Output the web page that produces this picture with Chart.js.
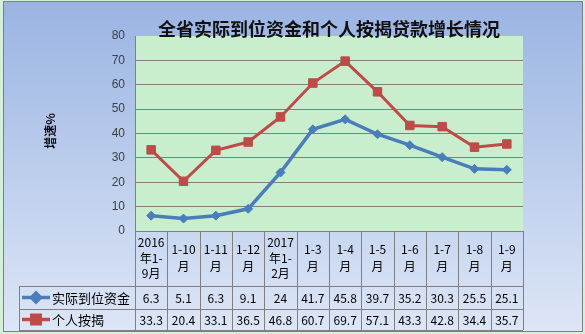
<!DOCTYPE html>
<html>
<head>
<meta charset="utf-8">
<script src="https://cdn.jsdelivr.net/npm/chart.js@4"></script>
<style>
	html, body { margin: 0; padding: 0; background: #d5f0d8; }
	canvas { display: block; }
</style>
</head>
<body>
<canvas id="chart" width="585" height="334"></canvas>
<script>
const Title = "全省实际到位资金和个人按揭贷款增长情况";
const AxisTitle = "增速%";
const Categories = [
	["2016", "年1-", "9月"], ["1-10", "月"], ["1-11", "月"], ["1-12", "月"],
	["2017", "年1-", "2月"], ["1-3", "月"], ["1-4", "月"], ["1-5", "月"],
	["1-6", "月"], ["1-7", "月"], ["1-8", "月"], ["1-9", "月"] ];
const SeriesNames = [ "实际到位资金", "个人按揭" ];
const Funds = [ 6.3, 5.1, 6.3, 9.1, 24, 41.7, 45.8, 39.7, 35.2, 30.3, 25.5, 25.1 ];
const Mortgage = [ 33.3, 20.4, 33.1, 36.5, 46.8, 60.7, 69.7, 57.1, 43.3, 42.8, 34.4, 35.7 ];

const Blue = "#4a7ebb";
const Red = "#be4b48";
const LineGray = "#808080";
const Font = "'Noto Sans CJK SC', 'DejaVu Sans', sans-serif";

const decoration = {
	id: "decoration",
	beforeDraw(chart)
	{
		const { ctx, chartArea: { top, bottom, left, right } } = chart;
		ctx.save();
			// outer frame with gradient
		const grad = ctx.createLinearGradient(0, 2, 0, 331);
		grad.addColorStop(0, "#9ab4e3");
		grad.addColorStop(1, "#dde6f6");
		ctx.fillStyle = grad;
		ctx.fillRect(3, 1, 580, 331);
		ctx.strokeStyle = "#7f7f7f";
		ctx.lineWidth = 1;
		ctx.strokeRect(3.5, 1.5, 579, 330);

		ctx.fillStyle = "#c9eecd";
		ctx.fillRect(left, top, right - left, bottom - top);

			// title
		ctx.fillStyle = "#111";
		ctx.font = "bold 18px " + Font;
		ctx.textAlign = "center";
		ctx.textBaseline = "middle";
		ctx.fillText(Title, 329, 29);

			// y axis title
		ctx.save();
		ctx.translate(50, 131);
		ctx.rotate(-Math.PI / 2);
		ctx.font = "bold 12px " + Font;
		ctx.fillText(AxisTitle, 0, 0);
		ctx.restore();
		ctx.restore();
	},
	afterDraw(chart)
	{
		const { ctx, chartArea: { bottom, left, right } } = chart;
		const x = chart.scales.x;
		const colW = (right - left) / Categories.length;
		const rowTop = bottom, row1 = 286, row2 = 309, rowEnd = 330, legLeft = 19;

		ctx.save();
		ctx.strokeStyle = LineGray;
		ctx.lineWidth = 1;
		ctx.beginPath();
		for (const y of [ rowTop ])
		{
			ctx.moveTo(left, y + 0.5);
			ctx.lineTo(right, y + 0.5);
		}
		for (const y of [ row1, row2, rowEnd ])
		{
			ctx.moveTo(legLeft, y + 0.5);
			ctx.lineTo(right, y + 0.5);
		}
		ctx.moveTo(legLeft + 0.5, row1);
		ctx.lineTo(legLeft + 0.5, rowEnd);
		for (let i = 0; i <= Categories.length; i++)
		{
			const cx = Math.round(left + i * colW) + 0.5;
			ctx.moveTo(cx, rowTop);
			ctx.lineTo(cx, rowEnd);
		}
		ctx.stroke();

			// category labels
		ctx.fillStyle = "#000";
		ctx.font = "12px " + Font;
		ctx.textAlign = "center";
		ctx.textBaseline = "middle";
		Categories.forEach((lines, i) =>
		{
			const cx = x.getPixelForValue(i);
			const lh = lines.length == 3 ? 15.5 : 16.5;
			const y0 = 258 - (lines.length - 1) * lh / 2;
			lines.forEach((t, j) => ctx.fillText(t, cx, y0 + j * lh));
		});

			// values
		const rows = [ [ Funds, (row1 + row2) / 2 + 1 ], [ Mortgage, (row2 + rowEnd) / 2 + 1 ] ];
		for (const [ values, y ] of rows)
			values.forEach((v, i) => ctx.fillText(String(v), x.getPixelForValue(i), y));

			// legend keys
		const keys = [ [ SeriesNames[0], Blue, "rectRot", 4.5 ], [ SeriesNames[1], Red, "rect", 6 ] ];
		keys.forEach(([ name, color, style, r ], k) =>
		{
			const y = rows[k][1] - 1;
			ctx.strokeStyle = color;
			ctx.lineWidth = 3.5;
			ctx.beginPath();
			ctx.moveTo(22, y);
			ctx.lineTo(50, y);
			ctx.stroke();
			ctx.fillStyle = color;
			Chart.helpers.drawPoint(ctx, { pointStyle: style, radius: r, borderWidth: 1 }, 36, y);
			ctx.fill();
			ctx.fillStyle = "#000";
			ctx.font = "13px " + Font;
			ctx.textAlign = "left";
			ctx.fillText(name, 52, y + 1);
		});
		ctx.restore();
	}
};

new Chart(document.getElementById("chart"), {
	type: "line",
	data: {
		labels: Categories.map(c => c.join("")),
		datasets: [{
			label: SeriesNames[0],
			data: Funds,
			borderColor: Blue,
			backgroundColor: Blue,
			borderWidth: 3.5,
			pointStyle: "rectRot",
			pointRadius: 4.5,
			pointBorderWidth: 1,
			tension: 0,
		},
		{
			label: SeriesNames[1],
			data: Mortgage,
			borderColor: Red,
			backgroundColor: Red,
			borderWidth: 3,
			pointStyle: "rect",
			pointRadius: 6,
			pointBorderWidth: 1,
			tension: 0,
		}]
	},
	options: {
		responsive: false,
		animation: false,
		layout: {
			padding: { left: 100, right: 62, top: 36, bottom: 103 }
		},
		plugins: {
			legend: { display: false },
			title: { display: false },
			tooltip: { enabled: false },
		},
		scales: {
			x: {
				display: false,
				offset: true,
			},
			y: {
				min: 0,
				max: 80,
				afterFit: scale => { scale.width = 35; },
				ticks: {
					stepSize: 10,
					padding: 10,
					color: "#404040",
					font: { family: "'Liberation Sans', sans-serif", size: 12 },
				},
				grid: {
					color: c => c.tick && c.tick.value == 80 ? "rgba(0,0,0,0)" : LineGray,
					drawTicks: false,
				},
				border: { color: LineGray },
			}
		}
	},
	plugins: [ decoration ],
});
</script>
</body>
</html>
